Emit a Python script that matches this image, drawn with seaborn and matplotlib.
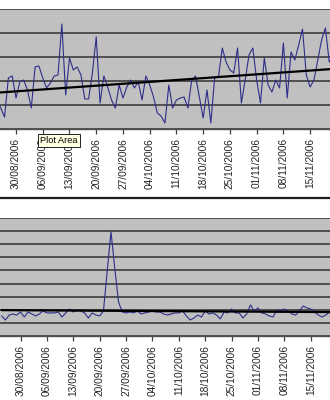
import numpy as np
import pandas as pd
import matplotlib
matplotlib.use("Agg")
import matplotlib.pyplot as plt
import matplotlib.dates as mdates
from matplotlib.lines import Line2D
import seaborn as sns

# ---------------- data ----------------
start_date = "2006-08-25"
top_values = [24.2, 17.5, 10.0, 42.5, 44.2, 25.8, 39.2, 40.8, 32.5, 17.5,
              51.7, 52.5, 42.5, 34.2, 38.3, 44.2, 45.0, 87.5, 28.3, 59.2,
              49.2, 51.7, 45.0, 25.0, 25.0, 46.7, 76.7, 21.7, 44.2, 35.0,
              24.2, 17.5, 36.7, 25.8, 35.0, 40.8, 34.2, 39.2, 24.2, 44.2,
              36.7, 26.7, 13.3, 10.8, 5.0, 36.7, 17.5, 24.2, 25.8, 26.7,
              17.5, 40.8, 44.2, 26.7, 9.2, 32.5, 5.0, 42.5, 43.3, 67.5,
              55.8, 49.2, 46.7, 67.5, 21.7, 40.8, 61.7, 67.5, 40.8, 21.7,
              59.2, 36.7, 30.8, 40.8, 34.2, 71.7, 25.8, 64.2, 57.5, 70.0,
              83.3, 45.0, 35.0, 40.8, 57.5, 74.2, 84.2, 55.8, 61.7]
bottom_values = [1.53, 1.22, 1.60, 1.68, 1.60, 1.83, 1.45, 1.83, 1.68, 1.53,
                 1.68, 1.91, 1.76, 1.76, 1.76, 1.83, 1.45, 1.76, 2.06, 1.83,
                 1.98, 1.91, 1.76, 1.37, 1.76, 1.60, 1.53, 1.91, 4.96, 7.94,
                 5.19, 2.60, 1.83, 1.76, 1.83, 1.76, 1.91, 1.68, 1.76, 1.83,
                 1.91, 1.83, 1.83, 1.68, 1.60, 1.68, 1.76, 1.76, 1.91, 1.53,
                 1.22, 1.37, 1.60, 1.45, 1.91, 1.68, 1.76, 1.60, 1.30, 1.83,
                 1.76, 2.06, 1.76, 1.76, 1.37, 1.68, 2.37, 1.91, 2.14, 1.76,
                 1.68, 1.53, 1.45, 1.98, 1.91, 2.06, 1.91, 1.68, 1.60, 1.91,
                 2.29, 2.14, 2.06, 1.83, 1.60, 1.45, 1.60, 1.83, 1.91]
tick_start = "2006-08-30"
tick_end = "2006-11-15"
top_yticks = [0, 20, 40, 60, 80, 100]
bottom_yticks = [0, 1, 2, 3, 4, 5, 6, 7, 8, 9]
tooltip_text = "Plot Area"

# ---------------- style ----------------
sns.set_style("white")
plt.rcParams["font.family"] = ["Liberation Sans", "DejaVu Sans"]

line_color = "#2e2e8a"
plot_bg = "#c0c0c0"
grid_color = "#3c3c3c"

dates = pd.date_range(start_date, periods=len(top_values), freq="D")
df_top = pd.DataFrame({"date": dates, "value": top_values})
df_bot = pd.DataFrame({"date": dates, "value": bottom_values})
tick_dates = pd.date_range(tick_start, tick_end, freq="7D")
t0 = pd.Timestamp(tick_start)

W, H = 330, 400
fig = plt.figure(figsize=(W / 100, H / 100), dpi=100)
fig.patch.set_facecolor("white")

ax1 = fig.add_axes([0, 1 - 129 / H, 1, 120 / H])
ax2 = fig.add_axes([0, 1 - 336 / H, 1, 118 / H])


def style_axis(ax, df, yticks, xl, xr):
    ax.set_facecolor(plot_bg)
    sns.lineplot(data=df, x="date", y="value", ax=ax, color=line_color,
                 linewidth=0.8, zorder=3)
    xnum = mdates.date2num(df["date"])
    sns.regplot(x=xnum, y=df["value"].to_numpy(), ax=ax, scatter=False,
                ci=None, truncate=True,
                line_kws=dict(color="black", linewidth=1.6, zorder=4))
    ax.set_ylim(yticks[0], yticks[-1])
    ax.set_yticks(yticks)
    ax.yaxis.grid(True, color=grid_color, linewidth=1.2)
    ax.xaxis.grid(False)
    ax.set_axisbelow(True)
    ax.tick_params(axis="y", left=False, labelleft=False)
    ax.set_xticks(tick_dates)
    ax.xaxis.set_major_formatter(mdates.DateFormatter("%d/%m/%Y"))
    ax.tick_params(axis="x", bottom=True, direction="out", length=3.5,
                   width=0.9, color="#404040", pad=3, labelsize=7.3,
                   labelcolor="#222222", labelrotation=90)
    ax.set_xlim(t0 + pd.Timedelta(days=xl), t0 + pd.Timedelta(days=xr))
    ax.set_xlabel("")
    ax.set_ylabel("")
    for side in ["left", "right", "top"]:
        ax.spines[side].set_visible(False)
    ax.spines["bottom"].set_color("#505050")
    ax.spines["bottom"].set_linewidth(1.0)


style_axis(ax1, df_top, top_yticks, -4.19, 82.2)
style_axis(ax2, df_bot, bottom_yticks, -5.44, 82.1)

# separator line between the two chart objects
fig.add_artist(Line2D([0, 1], [1 - 198 / H, 1 - 198 / H], color="#1e1e1e",
                      linewidth=1.6, transform=fig.transFigure))

# tooltip
fig.text(40 / W, 1 - 140.5 / H, tooltip_text, fontsize=6.6, ha="left",
         va="center", color="black", zorder=10,
         bbox=dict(boxstyle="square,pad=0.25", facecolor="#ffffe1",
                   edgecolor="black", linewidth=0.6))

fig.savefig("out.png", dpi=100, facecolor="white")
